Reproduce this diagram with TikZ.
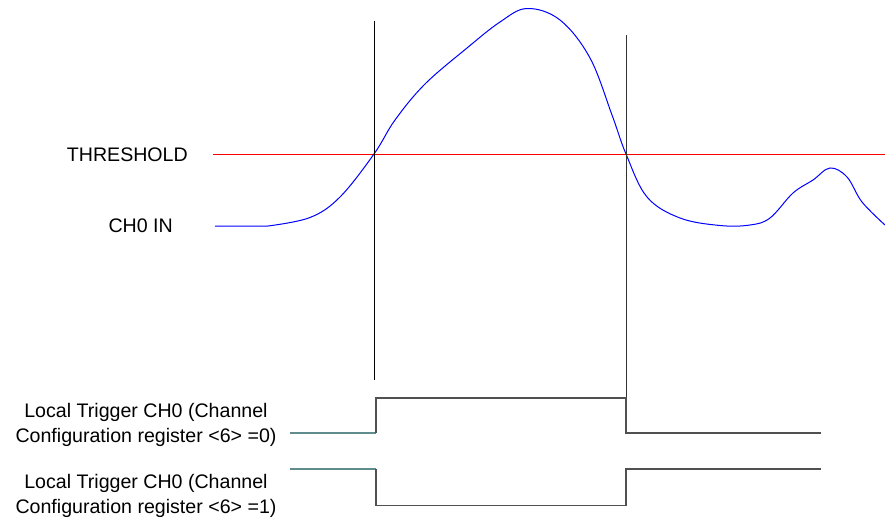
\documentclass[tikz,border=0pt]{standalone}
\usepackage{fontspec}
\setmainfont{Liberation Sans}
\usepackage{tikz}
\usetikzlibrary{positioning}
\definecolor{trigteal}{HTML}{5F8C8C}
\definecolor{trigdark}{HTML}{505050}
\tikzset{
	sig/.style={inner sep=0pt,font=\fontsize{19.6}{25}\selectfont},
	siglabel/.style={sig,align=center},
	marker/.style={black,line width=1pt},
	trace/.style={trigdark,line width=1.3pt},
	tracein/.style={trigteal,line width=1.3pt},
	wave/.style={blue,line width=1pt},
	thresh/.style={red,line width=1pt}
}

\begin{document}
\begin{tikzpicture}[x=1pt,y=-1pt]

        \useasboundingbox (0,0) rectangle (885,519);

        % ==================================================
        % 1. LABELS
        % ==================================================
        \node[sig,anchor=base east] (thr) at (188,161) {THRESHOLD};
        \node[sig,anchor=base east] (chin) at (173,232) {CH0 IN};
        \node[siglabel] (trigA) at (146,425) {Local Trigger CH0 (Channel\\Configuration register <6> =0)};
        \node[siglabel] (trigB) at (146,496) {Local Trigger CH0 (Channel\\Configuration register <6> =1)};

        % ==================================================
        % 2. THRESHOLD AND INPUT SIGNAL
        % ==================================================
        \draw[thresh] (213,154) -- (885,154);

        \draw[wave] (215,226) -- (268,226)
            plot[smooth,tension=0.6] coordinates {(268,226) (310,217.5) (340,197)
            (374,154) (395,120) (425,84) (467,48) (500,22) (527,8.5) (560,20)
            (590,58) (612,115) (626,154) (647,197) (680,218) (720,225.5) (750,225)
            (770,218) (793,193) (813,180) (830,168) (847,177) (862,202) (885,225)};

        % crossing markers
        \coordinate (up) at (374,21);
        \coordinate (dn) at (626,35);
        \draw[marker] (up) -- (374,380);
        \draw[marker,black!80] (dn) -- (626,433);

        % ==================================================
        % 3. TRIGGER OUTPUTS
        % ==================================================
        % <6> = 0 : high between the crossings
        \draw[tracein] (290,433) -- (376,433);
        \draw[trace] (376,433) -- (376,398) -- (626,398) -- (626,433) -- (821,433);

        % <6> = 1 : low between the crossings
        \draw[tracein] (290,469) -- (376,469);
        \draw[trace] (376,469) -- (376,505.5) -- (626,505.5) -- (626,469) -- (821,469);

\end{tikzpicture}
\end{document}
